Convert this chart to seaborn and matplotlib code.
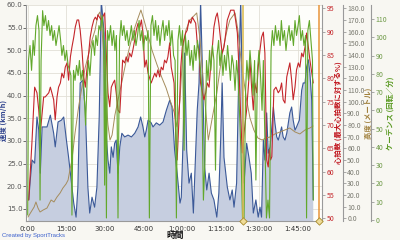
import matplotlib
matplotlib.use("Agg")
import matplotlib.pyplot as plt
import matplotlib.transforms as mtrans
import numpy as np
import pandas as pd
import seaborn as sns

# ---------------- data ----------------
speed_min = [0.4,1.0,1.7,2.7,3.6,4.3,4.9,5.6,7.5,8.8,
             10.1,10.7,11.8,13.1,14.0,14.9,15.9,16.9,17.9,18.8,
             19.5,20.4,21.4,22.4,23.4,24.1,25.0,26.0,26.9,27.8,
             28.6,29.7,29.9,30.5,31.2,31.9,32.5,33.2,33.8,34.4,
             35.1,35.8,36.6,37.7,39.0,40.3,41.6,42.9,43.9,44.8,
             45.5,46.1,46.8,48.0,48.7,50.0,51.3,52.6,53.9,55.2,
             56.1,57.1,58.1,59.2,59.7,60.5,61.0,61.8,62.7,63.6,
             64.4,65.3,65.9,66.6,67.2,67.9,68.8,69.6,70.5,71.4,
             72.4,73.5,74.3,75.0,75.6,76.3,77.0,77.6,78.6,79.5,
             80.2,81.2,82.1,82.8,83.4,84.1,85.1,86.0,86.9,87.7,
             88.7,89.6,90.3,90.9,91.6,92.2,92.9,93.5,94.2,94.8,
             95.5,96.1,96.8,97.4,98.1,98.7,99.3,100.0,100.7,101.3,
             101.9,102.6,103.2,103.9,104.5,105.6,106.5,107.1,107.8,108.4,
             109.1,109.7,110.4,111.0]
speed_kmh = [17.0,21.4,25.8,25.1,35.3,32.4,22.9,33.1,33.1,35.7,
             31.7,28.7,34.2,34.6,35.3,30.9,26.4,21.4,16.3,13.2,
             19.8,42.8,43.4,36.8,19.8,14.1,17.6,15.4,19.8,35.3,
             61.0,53.8,41.9,31.7,25.8,22.9,28.7,26.4,29.5,30.2,
             22.9,28.7,31.7,30.9,31.3,30.9,31.7,33.1,35.3,33.1,
             30.9,32.4,34.6,34.0,33.1,34.0,33.5,34.2,36.8,39.0,
             37.5,28.0,22.9,16.3,17.6,31.7,49.4,28.0,20.7,22.9,
             14.1,28.0,36.8,42.8,61.0,46.3,24.2,19.2,22.9,18.5,
             17.0,13.2,18.5,30.2,42.8,26.4,22.9,19.8,17.0,19.2,
             15.4,20.7,46.3,61.0,42.8,20.7,29.5,26.4,22.9,14.1,
             17.0,13.2,15.4,13.2,30.2,25.8,36.2,27.3,28.7,32.4,
             37.5,34.0,30.9,30.2,31.7,33.1,30.9,30.2,31.7,34.0,
             36.2,37.5,34.6,32.4,33.1,34.6,41.2,42.8,42.8,46.3,
             47.9,45.0,39.0,17.0]

hr_min = [0.4,1.0,1.7,2.7,3.6,4.3,4.9,6.2,6.8,8.2,8.8,9.4,10.1,10.7,11.4,12.0,12.7,13.3,14.0,14.6,
          15.3,15.9,16.6,17.2,17.9,18.5,19.2,19.8,20.4,21.1,21.8,22.4,23.0,23.7,24.3,25.0,25.7,26.3,26.9,27.3,
          28.6,29.9,30.5,31.2,31.9,32.5,33.2,33.8,34.4,35.1,35.8,36.4,36.9,37.7,38.3,39.0,39.6,40.3,40.9,41.6,
          42.2,42.9,43.6,44.2,44.8,45.5,46.1,46.8,48.0,49.4,50.0,50.6,51.3,51.9,52.6,53.2,53.9,54.5,55.2,55.8,
          56.9,57.5,58.1,58.8,59.5,60.1,60.7,61.4,62.0,62.7,63.4,64.0,64.6,65.3,65.9,66.6,67.2,68.5,69.2,69.8,
          70.5,71.1,71.7,72.4,73.1,73.7,74.3,75.0,75.6,76.3,77.0,77.6,78.9,80.2,80.8,81.5,82.1,82.8,83.4,84.1,
          85.1,86.0,86.4,87.1,87.7,88.3,89.0,89.6,90.3,90.9,91.6,92.2,92.6,92.9,93.5,93.9,94.4,94.9,95.7,96.5,
          97.4,98.1,98.7,99.3,100.0,100.7,101.3,101.9,102.6,103.2,103.9,104.5,105.2,105.8,106.5,107.1,107.8,108.4,109.1,109.7,
          111.0]
hr_pct = [53.9,59.7,66.8,78.1,76.9,73.2,68.3,76.0,76.0,76.9,78.1,76.9,75.4,71.1,76.0,78.1,79.0,81.1,80.1,82.4,
          83.3,79.6,84.6,86.7,88.8,91.0,92.5,92.5,90.3,86.1,80.3,78.1,81.8,85.4,88.8,91.0,92.5,93.1,92.5,93.6,
          92.5,94.0,86.1,76.9,73.9,78.1,79.0,79.6,76.9,73.2,72.6,79.0,83.9,83.3,84.6,83.5,85.4,84.6,86.1,88.2,
          90.3,91.8,91.0,92.5,89.7,82.4,83.9,81.1,79.0,81.1,80.3,81.8,80.3,82.4,81.8,83.9,83.3,84.6,87.6,82.4,
          79.0,68.3,62.5,71.1,82.4,86.7,88.2,89.7,90.3,92.5,91.8,93.1,92.5,91.8,87.6,86.1,79.0,75.4,76.9,79.0,
          78.1,82.4,86.1,91.0,93.1,94.0,91.8,88.2,85.4,86.7,89.7,92.5,94.6,94.6,92.5,89.7,82.4,71.7,64.0,68.3,
          73.2,80.0,83.9,77.5,73.2,79.0,76.9,82.4,86.1,88.8,89.9,85.4,71.7,62.5,61.0,64.7,62.5,63.2,77.5,78.1,
          76.9,77.5,79.0,75.4,74.7,80.3,81.8,83.3,79.6,75.4,78.1,81.8,83.3,82.4,85.4,84.6,86.7,89.7,86.7,83.9,
          79.0]

elev_min = [0.1,1.3,2.5,3.2,4.0,4.8,6.0,7.5,9.1,10.2,11.4,12.6,13.7,14.9,15.7,16.4,17.2,18.4,19.9,21.1,
            22.3,23.8,25.0,26.2,27.3,28.1,28.9,29.7,30.5,31.2,32.0,32.8,33.9,35.1,36.6,38.2,39.8,41.3,42.9,44.0,
            45.2,46.8,48.3,50.3,52.2,53.8,55.3,56.9,
            58.0,59.2,60.4,61.5,63.1,65.7,67.0,68.5,70.2,71.6,73.5,74.7,75.9,77.5,78.6,80.6,81.7,82.5,83.7,85.1,
            86.4,87.9,89.5,91.1,92.6,94.2,96.1,98.1,100.0,101.9,103.9,105.8,107.8,109.7,110.9]
elev_m = [1.1,5.4,9.7,14.0,8.8,5.4,7.1,8.8,15.7,14.0,18.3,21.7,26.0,29.4,32.8,41.4,50.0,73.1,97.1,112.5,
          128.8,141.7,152.8,161.4,174.2,176.8,161.4,135.7,101.4,80.0,67.1,71.4,88.5,101.4,116.8,134.0,148.5,161.4,171.7,178.5,
          170.0,157.1,144.2,131.4,120.3,111.7,101.4,91.1,
          78.3,101.4,146.8,161.4,170.0,176.0,152.8,110.0,67.1,84.3,107.4,127.1,144.2,161.4,170.0,176.0,161.4,144.2,122.8,101.4,
          86.0,75.7,68.8,67.1,68.8,69.7,72.3,74.0,75.7,77.4,74.0,72.3,75.7,77.4,79.1]

cad_min = [0.0,0.3,0.9,1.5,2.1,2.6,3.2,3.8,4.4,4.8,5.2,5.8,6.3,6.9,7.5,8.1,8.7,9.3,9.8,10.4,
           11.0,11.6,12.2,12.8,13.3,13.9,14.5,15.1,15.7,16.3,16.8,17.2,17.8,18.4,19.0,19.6,20.1,20.7,21.3,21.9,
           22.5,23.1,23.6,24.2,24.8,25.4,26.0,26.5,27.1,27.7,28.3,28.9,29.5,29.9,30.2,30.6,31.0,31.6,32.2,32.8,
           33.4,33.9,34.5,35.1,35.7,36.3,36.8,37.4,38.0,38.6,39.2,39.8,40.3,40.9,41.5,42.1,42.7,43.3,43.8,44.4,
           45.0,45.6,46.2,46.8,47.3,47.9,48.5,49.1,49.7,50.3,50.8,51.4,52.0,52.6,53.2,53.8,54.3,54.9,55.5,56.1,
           56.7,57.3,57.8,58.4,59.0,59.6,60.2,60.8,61.3,61.9,62.5,63.1,63.7,64.3,64.8,65.4,66.0,66.6,67.2,67.7,
           68.3,68.9,69.5,70.1,70.7,71.2,71.8,72.4,73.0,73.6,74.2,74.7,75.3,75.9,76.5,77.1,77.7,78.2,78.8,79.4,
           80.0,80.6,81.2,81.7,82.3,82.9,83.5,84.1,84.7,85.2,85.8,86.4,87.0,87.6,88.2,88.7,89.3,89.9,90.5,91.1,
           91.6,92.2,92.8,93.4,94.0,94.6,95.1,95.7,96.3,96.9,97.5,98.1,98.6,99.2,99.8,100.4,101.0,101.6,102.1,102.7,
           103.3,103.9,104.5,105.1,105.6,106.2,106.8,107.4,108.0,108.4,108.9,109.5,110.1,110.7,111.0]
cad_rpm = [2.7,87.4,95.6,82.0,98.4,90.2,106.5,112.0,103.8,10.9,87.4,114.7,106.5,112.0,103.8,109.3,101.1,106.5,98.4,103.8,
           95.6,101.1,106.5,98.4,90.2,95.6,87.4,92.9,84.7,82.0,79.2,2.7,82.0,76.5,84.7,79.2,87.4,76.5,82.0,71.0,
           52.0,76.5,87.4,79.2,92.9,98.4,90.2,101.1,95.6,106.5,103.8,112.0,101.1,19.1,98.4,1.1,103.8,98.4,106.5,95.6,
           103.8,92.9,101.1,1.1,98.4,109.3,101.1,106.5,98.4,103.8,95.6,101.1,106.5,98.4,103.8,95.6,101.1,109.3,98.4,103.8,
           92.9,101.1,98.4,103.8,1.1,106.5,112.0,101.1,109.3,98.4,106.5,95.6,103.8,109.3,98.4,106.5,101.1,109.3,95.6,103.8,
           90.2,87.4,1.1,98.4,106.5,95.6,103.8,38.2,101.1,90.2,98.4,84.7,92.9,82.0,95.6,87.4,98.4,90.2,82.0,71.0,
           10.9,32.8,87.4,76.5,92.9,82.0,95.6,87.4,27.3,90.2,98.4,84.7,92.9,79.2,90.2,82.0,95.6,87.4,76.5,90.2,
           84.7,71.0,87.4,79.2,60.1,38.2,1.1,1.1,71.0,87.4,76.5,92.9,82.0,68.3,87.4,21.9,82.0,92.9,79.2,60.1,
           87.4,43.7,1.1,10.9,1.1,92.9,103.8,95.6,106.5,98.4,103.8,95.6,109.3,98.4,103.8,92.9,101.1,106.5,98.4,103.8,
           95.6,109.3,101.1,106.5,112.0,98.4,103.8,95.6,101.1,1.1,103.8,109.3,98.4,87.4,10.9]

marker_min = [83.8, 113.3]
marker_colors = ["#d9b84a", "#e8953a"]

xtick_min = [0, 15, 30, 45, 60, 75, 90, 105]
xtick_labels = ["0:00", "15:00", "30:00", "45:00", "1:00:00", "1:15:00", "1:30:00", "1:45:00"]
speed_ticks = [15, 20, 25, 30, 35, 40, 45, 50, 55, 60]
hr_ticks = [50, 55, 60, 65, 70, 75, 80, 85, 90, 95]
elev_ticks = [0, 10, 20, 30, 40, 50, 60, 70, 80, 90, 100, 110, 120, 130, 140, 150, 160, 170, 180]
cad_ticks = [0, 10, 20, 30, 40, 50, 60, 70, 80, 90, 100, 110]

# ---------------- style ----------------
sns.set_style("white")
plt.rcParams['font.family'] = ['Noto Sans CJK JP', 'DejaVu Sans']

C_SPEED = "#3b5998"
C_FILL = "#c6cee0"
C_HR = "#c4262b"
C_ELEV = "#a58c5c"
C_CAD = "#62a82c"
SPINE = "#9a9a9a"
TICKFONT = ["DejaVu Sans"]
TICK_FS = 5.0
LABEL_FS = 5.3

fig = plt.figure(figsize=(4, 2.4), dpi=100)
fig.patch.set_facecolor("#f8f7f2")
AX_L, AX_W, AX_B, AX_H = 26, 296, 19, 216
ax = fig.add_axes([AX_L/400, AX_B/240, AX_W/400, AX_H/240])
ax.set_facecolor("#fefefb")

XMIN, XMAX = -0.66, 114.4
SP_LIM = (12.35, 60.0)

def ax_x(px):
    return (px - AX_L) / AX_W

def ax_y(py):
    return (240 - AX_B - py) / AX_H

def center_label(lbl):
    lbl.set_horizontalalignment("center")
    lbl.set_verticalalignment("center")
    lbl.set_rotation_mode("anchor")

# speed area + line
ax.fill_between(speed_min, speed_kmh, 0, color=C_FILL, lw=0, zorder=1)
sns.lineplot(x=speed_min, y=speed_kmh, ax=ax, color=C_SPEED, linewidth=0.8,
             estimator=None, sort=False, zorder=2)
ax.set_xlim(XMIN, XMAX)
ax.set_ylim(*SP_LIM)
ax.set_xticks(xtick_min)
ax.set_xticklabels(xtick_labels, family=TICKFONT)
ax.set_yticks(speed_ticks)
ax.set_yticklabels([f"{v:.1f}" for v in speed_ticks], family=TICKFONT)
ax.grid(True, color="#e2e0d6", lw=0.6)
ax.set_axisbelow(True)
ax.tick_params(axis="y", labelsize=TICK_FS, colors="#555555", length=2, width=0.6, pad=0.5)
ax.tick_params(axis="x", labelsize=TICK_FS, colors="#333333", length=2.5, width=0.6, pad=1)
for s in ["top", "right"]:
    ax.spines[s].set_visible(False)
for s in ["left", "bottom"]:
    ax.spines[s].set_color(SPINE)
    ax.spines[s].set_linewidth(0.8)
ax.set_ylabel("速度 (km/h)", color="#2b3f8c", fontsize=LABEL_FS, fontweight="bold")
center_label(ax.yaxis.label)
ax.yaxis.set_label_coords(ax_x(3.6), ax_y(120))
ax.set_xlabel("時間", color="#111111", fontsize=6.3, fontweight="bold")
center_label(ax.xaxis.label)
ax.xaxis.set_label_coords(ax_x(175), ax_y(235.5))

def style_twin(a, pos, tick_color, label_color, label_px, pad=1):
    for s in ["top", "left", "bottom"]:
        a.spines[s].set_visible(False)
    a.spines["right"].set_position(("axes", pos))
    a.spines["right"].set_color(SPINE)
    a.spines["right"].set_linewidth(0.8)
    a.tick_params(axis="y", labelsize=TICK_FS, colors=tick_color, length=2.5, width=0.6, pad=pad)
    a.tick_params(axis="y", which="both", color=SPINE)
    a.yaxis.label.set_color(label_color)
    center_label(a.yaxis.label)
    a.yaxis.set_label_coords(ax_x(label_px), ax_y(113))
    a.set_xlim(XMIN, XMAX)

# elevation
ax_el = ax.twinx()
sns.lineplot(x=elev_min, y=elev_m, ax=ax_el, color=C_ELEV, linewidth=0.7,
             estimator=None, sort=False)
ax_el.set_ylim(-2.31, 182.8)
ax_el.set_yticks(elev_ticks)
ax_el.set_yticklabels([f"{v:.1f}" for v in elev_ticks], family=TICKFONT)
ax_el.set_ylabel("高度 (メートル)", fontsize=LABEL_FS, fontweight="bold")
style_twin(ax_el, ax_x(343), "#7a7a70", "#a07f3a", 368.3, pad=0.5)

# heart rate
ax_hr = ax.twinx()
sns.lineplot(x=hr_min, y=hr_pct, ax=ax_hr, color=C_HR, linewidth=0.8,
             estimator=None, sort=False)
ax_hr.set_ylim(49.42, 95.71)
ax_hr.set_yticks(hr_ticks)
ax_hr.set_yticklabels([str(v) for v in hr_ticks], family=TICKFONT)
ax_hr.set_ylabel("心拍数 (最大心拍数に対する%)", fontsize=LABEL_FS, fontweight="bold")
style_twin(ax_hr, 1.0, C_HR, "#c0141c", 338.5)

# cadence
ax_cad = ax.twinx()
sns.lineplot(x=cad_min, y=cad_rpm, ax=ax_cad, color=C_CAD, linewidth=0.8,
             estimator=None, sort=False)
ax_cad.set_ylim(-0.55, 117.8)
ax_cad.set_yticks(cad_ticks)
ax_cad.set_yticklabels([str(v) for v in cad_ticks], family=TICKFONT)
ax_cad.set_ylabel("ケーデンス (回転／分)", fontsize=LABEL_FS, fontweight="bold")
style_twin(ax_cad, ax_x(371), "#6f9a48", "#5a9a22", 391)

# lap marker lines with diamonds
trans = mtrans.blended_transform_factory(ax_cad.transData, ax_cad.transAxes)
for m, c in zip(marker_min, marker_colors):
    ax_cad.axvline(m, color=c, lw=1.1, zorder=5)
ax_cad.scatter(marker_min, [0, 0], transform=trans, marker="D", s=14,
               facecolor="#efdc98", edgecolor="#a88a2a", linewidth=0.6,
               zorder=6, clip_on=False)

fig.text(2/400, 1 - 237/240, "Created by SportTracks", fontsize=4.3, color="#3a5fcd",
         family=["Liberation Sans"], va="baseline")

fig.savefig("out.png", dpi=100, facecolor=fig.get_facecolor())
